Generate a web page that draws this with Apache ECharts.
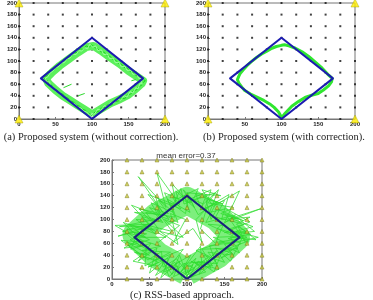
<!DOCTYPE html>
<html>
<head>
<meta charset="utf-8">
<script src="https://cdn.jsdelivr.net/npm/echarts@6/dist/echarts.min.js"></script>
<style>
html,body{margin:0;padding:0;background:#fff}
#chart{width:373px;height:300px}
</style>
</head>
<body>
<div id="chart"></div>
<script>
// reference grid (cm) and anchor nodes
var gridSteps = [0, 20, 40, 60, 80, 100, 120, 140, 160, 180, 200];
var anchors = [[0, 0], [200, 0], [0, 200], [200, 200]];
// the real walked route
var route = [[100, 0], [170, 70], [100, 140], [30, 70], [100, 0]];

// (a) without correction : noisy band
var bandA = [[100,8],[112,17],[125,27],[138,34],[150,42],[160,52],[168,61],[170,66],[163,72],[150,83],
  [138,95],[125,106],[112,118],[102,126],[92,124],[80,114],[68,103],[56,92],[45,80],[37,70],
  [40,62],[50,50],[60,40],[70,32],[80,24],[90,16],[100,8]];
var trackA1 = [[100,6],[104,12],[109,13],[113,19],[118,20],[122,25],[127,24],[131,30],[136,31],[140,36],
  [145,35],[149,42],[153,43],[157,49],[161,50],[164,56],[168,58],[170,63],[173,66],[168,70],
  [165,74],[160,75],[157,80],[152,82],[149,87],[144,89],[141,94],[136,96],[133,101],[128,103],
  [125,108],[120,110],[117,115],[112,116],[108,121],[104,123],[100,128],[96,124],[92,126],[88,120],
  [84,121],[80,115],[76,114],[72,108],[68,107],[64,101],[60,100],[56,94],[52,92],[48,86],
  [44,83],[41,77],[37,74],[35,69],[39,66],[41,60],[45,58],[48,52],[52,50],[55,45],
  [60,43],[63,38],[67,36],[71,31],[75,29],[79,24],[83,22],[87,17],[91,15],[95,10],[98,8],[100,4]];
var trackA2 = [[99,10],[103,8],[108,17],[112,15],[117,23],[121,21],[126,29],[130,27],[135,35],[139,32],
  [144,40],[148,38],[152,47],[156,45],[160,54],[163,52],[166,62],[169,60],[167,67],[171,69],
  [164,70],[161,78],[156,77],[153,84],[148,84],[145,91],[140,90],[137,98],[132,97],[129,105],
  [124,104],[121,112],[116,111],[113,119],[108,118],[105,126],[101,124],[97,129],[94,121],[90,123],
  [86,117],[82,118],[78,111],[74,112],[70,105],[66,104],[62,97],[58,97],[54,90],[50,89],
  [46,82],[43,80],[39,72],[36,71],[38,64],[42,64],[43,56],[47,55],[50,48],[54,47],
  [57,41],[61,40],[65,34],[69,33],[73,27],[77,26],[81,20],[85,19],[89,13],[93,12],[97,6],[101,9]];
var spursA = [[[61,54],[72,60]], [[81,40],[90,44]], [[154,66],[160,68]]];

// (b) with correction : smooth track
var trackB = [[100,2],[105,10],[114,22],[123,30],[132,37],[141,41],[150,44],[157,50],[164,57],[168,64],
  [169,70],[163,77],[155,88],[146,98],[137,108],[128,116],[119,122],[110,126],[104,128],[100,127],
  [93,125],[87,122],[80,117],[73,112],[66,106],[59,99],[53,92],[48,85],[44,79],[42,74],
  [40,68],[42,62],[46,55],[50,49],[58,43],[68,37],[76,32],[84,26],[90,20],[96,12],[100,3]];

// (c) RSS-based : scattered estimates
var bandC = [[100,12],[140,40],[166,70],[140,104],[100,132],[60,106],[32,74],[60,40],[100,12]];
var trackC1 = [[98,4],[118,22],[105,30],[132,18],[122,40],[150,28],[138,52],[160,44],[145,35],[172,60],
  [155,68],[185,75],[168,88],[178,62],[160,95],[150,110],[175,98],[140,118],[132,100],[125,135],
  [148,126],[112,142],[118,120],[95,150],[105,128],[80,138],[92,118],[62,132],[75,110],[50,120],
  [68,95],[40,105],[55,82],[22,92],[45,70],[18,78],[38,55],[20,62],[50,40],[30,45],
  [62,28],[48,20],[75,35],[70,12],[88,22],[82,4],[102,15],[95,2]];
var trackC2 = [[102,2],[125,12],[110,28],[140,26],[128,45],[162,40],[150,58],[195,70],[165,80],[188,88],
  [158,102],[198,118],[150,95],[170,148],[135,122],[120,150],[145,140],[100,145],[110,120],[85,148],
  [90,125],[60,178],[72,120],[35,172],[70,108],[30,112],[58,100],[10,88],[48,88],[8,72],
  [35,80],[25,50],[52,60],[35,30],[60,52],[50,10],[78,40],[65,2],[90,30],[88,8],[112,35],[100,5]];
var trackC3 = [[100,10],[130,38],[112,48],[150,62],[135,70],[175,72],[140,85],[165,108],[125,95],[140,130],
  [115,108],[102,138],[98,110],[78,128],[88,95],[60,115],[80,80],[42,92],[72,70],[28,70],
  [65,55],[40,48],[78,45],[55,30],[95,50],[75,18],[105,40],[92,12],[118,55],[120,20],[140,48],[108,4]];
var trackC4 = [[96,0],[128,22],[142,16],[135,40],[168,52],[148,48],[182,64],[160,76],[190,80],[170,100],
  [145,110],[162,120],[128,128],[138,145],[108,132],[115,152],[88,135],[70,145],[82,112],[52,128],
  [66,98],[32,100],[58,76],[15,95],[42,62],[12,65],[40,40],[28,30],[58,22],[60,42],[80,8],[90,40],[102,0]];
var trackC5 = [[104,6],[115,30],[136,12],[146,44],[158,30],[178,80],[150,78],[184,96],[152,118],[130,112],
  [142,150],[122,126],[96,140],[104,112],[74,134],[84,104],[45,112],[62,84],[20,84],[50,66],
  [22,56],[48,32],[66,46],[68,20],[86,34],[96,18],[108,24],[98,2]];
var trackC6 = [[92,6],[110,18],[96,26],[124,30],[116,8],[138,30],[130,56],[164,62],[142,62],[180,70],
  [156,84],[176,92],[138,104],[150,132],[118,116],[126,142],[96,126],[92,152],[78,116],[58,140],
  [64,110],[36,118],[54,94],[14,80],[46,76],[24,66],[52,46],[36,38],[70,30],[58,6],[84,28],[94,0]];
var trackC7 = [[106,2],[120,28],[134,22],[120,50],[156,52],[170,44],[158,70],[192,66],[166,92],[184,104],
  [146,100],[156,142],[124,118],[132,150],[100,132],[80,160],[86,124],[48,142],[76,100],[26,124],
  [50,92],[4,90],[36,66],[16,52],[46,56],[44,22],[66,38],[76,4],[96,26],[100,0]];
var trackC8 = [[60,60],[90,90],[70,100],[95,70],[64,80],[88,58],[78,110],[98,100],[82,62],[108,85],
  [120,62],[112,100],[126,118],[118,84],[138,60],[148,90],[128,92],[162,72]];

var captions = ['(a) Proposed system (without correction).', '(b) Proposed system (with correction).', '(c) RSS-based approach.'];
var titleC = 'mean error=0.37';

function cross(xs, ys, skipX0) {
  var out = [];
  xs.forEach(function (x) {
    ys.forEach(function (y) {
      if (skipX0 && x === 0) return;
      out.push([x, y]);
    });
  });
  return out;
}
function isCorner(p) {
  return anchors.some(function (a) { return a[0] === p[0] && a[1] === p[1]; });
}
var refDots = cross(gridSteps, gridSteps, false).filter(function (p) { return !isCorner(p); });
var refTri = cross(gridSteps, gridSteps, true);

var grids = [
  {left: 19, top: 1, width: 146, height: 118},
  {left: 208, top: 1, width: 147, height: 118},
  {left: 112, top: 160, width: 150, height: 119}
];
grids.forEach(function (g) { g.show = true; g.borderColor = '#777'; g.borderWidth = 1; });

function xAx(i) {
  return {gridIndex: i, type: 'value', min: 0, max: 200, interval: 50,
    axisLine: {show: true, lineStyle: {color: '#777'}},
    axisTick: {show: true, inside: true, length: 2, lineStyle: {color: '#777'}},
    axisLabel: {fontSize: 6, fontWeight: 'bold', color: '#222', margin: 2},
    splitLine: {show: false}};
}
function yAx(i) {
  return {gridIndex: i, type: 'value', min: 0, max: 200, interval: 20,
    axisLine: {show: true, lineStyle: {color: '#777'}},
    axisTick: {show: true, inside: true, length: 2, lineStyle: {color: '#777'}},
    axisLabel: {fontSize: 6, fontWeight: 'bold', color: '#222', margin: 2},
    splitLine: {show: false}};
}
function line(i, data, color, width, z, opacity) {
  return {type: 'line', xAxisIndex: i, yAxisIndex: i, data: data, showSymbol: false, symbol: 'none',
    animation: false, silent: true, z: z,
    lineStyle: {color: color, width: width, opacity: opacity == null ? 1 : opacity, join: 'round'}};
}

var series = [];
// (a) and (b)
[0, 1].forEach(function (i) {
  series.push({type: 'scatter', xAxisIndex: i, yAxisIndex: i, data: refDots, symbol: 'rect', symbolSize: 2,
    itemStyle: {color: '#111'}, z: 2, silent: true, animation: false});
});
series.push(line(0, bandA, '#5cf05c', 8, 3));
series.push(line(0, trackA1, '#1ed81e', 1, 3));
series.push(line(0, trackA2, '#9cff9c', 1, 3));
spursA.forEach(function (s) { series.push(line(0, s, '#2cd82c', 1, 3)); });
series.push(line(1, trackB, '#2fe62f', 3, 3));
// (c)
series.push(line(2, bandC, '#52ea52', 27, 2, 0.75));
[trackC1, trackC2, trackC3, trackC4, trackC5, trackC6, trackC7, trackC8].forEach(function (t) {
  series.push(line(2, t, '#30dc30', 0.8, 3, 0.95));
});
series.push({type: 'scatter', xAxisIndex: 2, yAxisIndex: 2, data: refTri, symbol: 'triangle', symbolSize: 4,
  itemStyle: {color: '#c8c83a', borderColor: '#6a6a10', borderWidth: 0.5}, z: 4, silent: true, animation: false});
// route on top
[0, 1].forEach(function (i) { series.push(line(i, route, '#1c1cb0', 2, 5)); });
series.push(line(2, route, '#1a237e', 2, 5));
// anchors
[0, 1].forEach(function (i) {
  series.push({type: 'scatter', xAxisIndex: i, yAxisIndex: i, data: anchors, symbol: 'triangle', symbolSize: 8,
    itemStyle: {color: '#ffec00', borderColor: '#9a9a00', borderWidth: 0.5}, z: 6, silent: true, animation: false});
});

var chart = echarts.init(document.getElementById('chart'), null, {renderer: 'canvas'});
chart.setOption({
  animation: false,
  backgroundColor: '#fff',
  grid: grids,
  xAxis: [xAx(0), xAx(1), xAx(2)],
  yAxis: [yAx(0), yAx(1), yAx(2)],
  series: series,
  graphic: [
    {type: 'text', x: 91, y: 137, style: {text: captions[0], align: 'center', verticalAlign: 'middle',
      font: '10.5px "Liberation Serif"', fill: '#222'}},
    {type: 'text', x: 284, y: 137, style: {text: captions[1], align: 'center', verticalAlign: 'middle',
      font: '10.5px "Liberation Serif"', fill: '#222'}},
    {type: 'text', x: 182, y: 295, style: {text: captions[2], align: 'center', verticalAlign: 'middle',
      font: '10.5px "Liberation Serif"', fill: '#222'}},
    {type: 'text', x: 186, y: 155.5, style: {text: titleC, align: 'center', verticalAlign: 'middle',
      font: '8px "Liberation Sans"', fill: '#333'}}
  ]
});
</script>
</body>
</html>
